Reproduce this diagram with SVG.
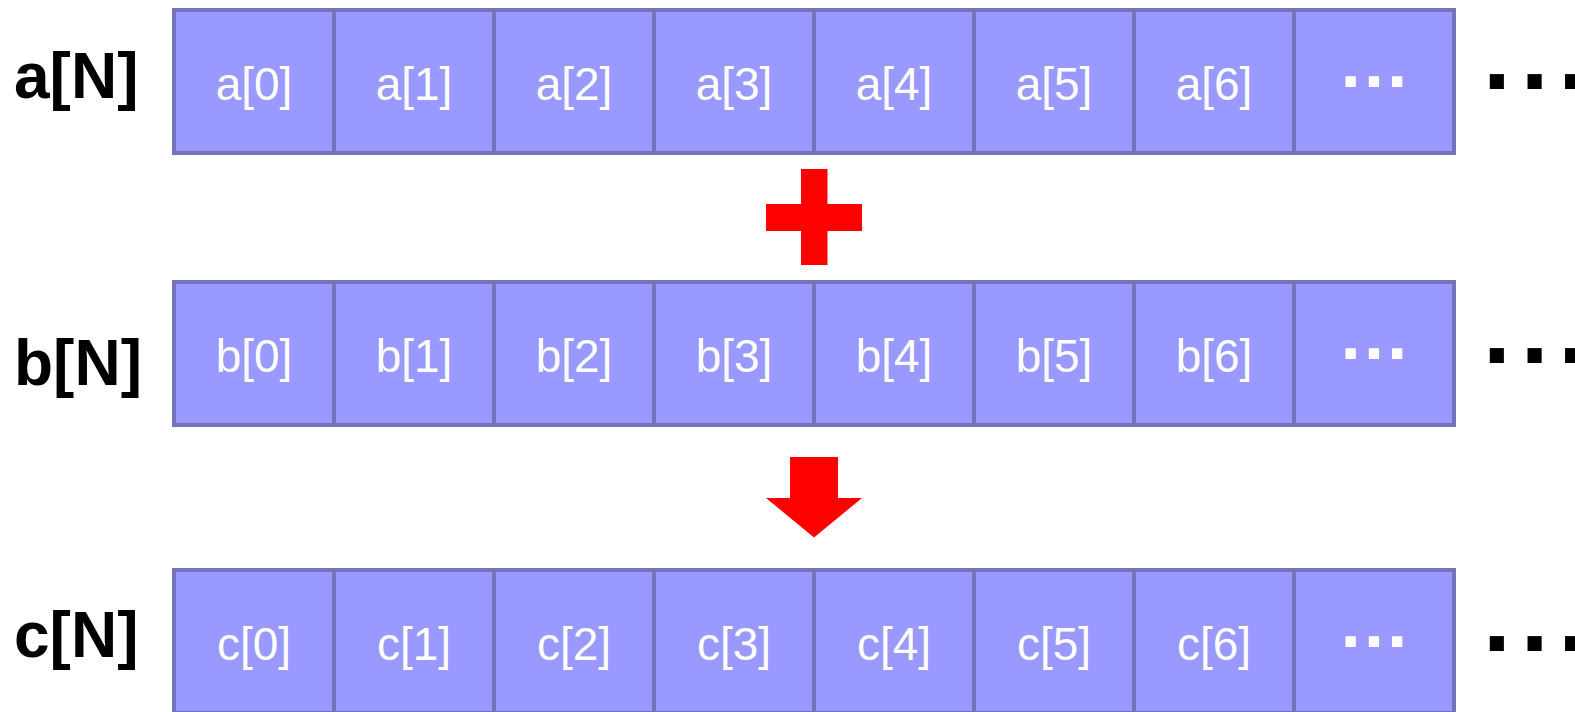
<svg xmlns="http://www.w3.org/2000/svg" width="1575" height="712" viewBox="0 0 1575 712">
  <style>
    .cell { fill: #9999ff; stroke: #7373bb; stroke-width: 4; }
    .ct { font-family: "Liberation Sans", Arial, sans-serif; font-size: 46px; fill: #ffffff; text-anchor: middle; }
    .cd { font-family: "Liberation Sans", Arial, sans-serif; font-size: 73px; font-weight: bold; fill: #ffffff; text-anchor: middle; }
    .lbl { font-family: "Liberation Sans", Arial, sans-serif; font-size: 64px; font-weight: bold; fill: #000000; }
    .od { font-family: "Liberation Sans", Arial, sans-serif; font-size: 100px; font-weight: bold; fill: #000000; letter-spacing: 9.9px; }
    .op { fill: #ff0000; }
  </style>
  <rect width="1575" height="712" fill="#ffffff"/>

  <g id="array-a">
    <text class="lbl" x="14" y="98">a[N]</text>
    <g id="a0"><rect class="cell" x="174" y="10" width="160" height="143"/><text class="ct" x="254" y="100">a[0]</text></g>
    <g id="a1"><rect class="cell" x="334" y="10" width="160" height="143"/><text class="ct" x="414" y="100">a[1]</text></g>
    <g id="a2"><rect class="cell" x="494" y="10" width="160" height="143"/><text class="ct" x="574" y="100">a[2]</text></g>
    <g id="a3"><rect class="cell" x="654" y="10" width="160" height="143"/><text class="ct" x="734" y="100">a[3]</text></g>
    <g id="a4"><rect class="cell" x="814" y="10" width="160" height="143"/><text class="ct" x="894" y="100">a[4]</text></g>
    <g id="a5"><rect class="cell" x="974" y="10" width="160" height="143"/><text class="ct" x="1054" y="100">a[5]</text></g>
    <g id="a6"><rect class="cell" x="1134" y="10" width="160" height="143"/><text class="ct" x="1214" y="100">a[6]</text></g>
    <g id="a-more"><rect class="cell" x="1294" y="10" width="160" height="143"/><text class="cd" x="1374" y="86.7">…</text></g>
    <text class="od" x="1483" y="89">...</text>
  </g>

  <g id="array-b">
    <text class="lbl" x="14" y="385">b[N]</text>
    <g id="b0"><rect class="cell" x="174" y="282" width="160" height="143"/><text class="ct" x="254" y="372">b[0]</text></g>
    <g id="b1"><rect class="cell" x="334" y="282" width="160" height="143"/><text class="ct" x="414" y="372">b[1]</text></g>
    <g id="b2"><rect class="cell" x="494" y="282" width="160" height="143"/><text class="ct" x="574" y="372">b[2]</text></g>
    <g id="b3"><rect class="cell" x="654" y="282" width="160" height="143"/><text class="ct" x="734" y="372">b[3]</text></g>
    <g id="b4"><rect class="cell" x="814" y="282" width="160" height="143"/><text class="ct" x="894" y="372">b[4]</text></g>
    <g id="b5"><rect class="cell" x="974" y="282" width="160" height="143"/><text class="ct" x="1054" y="372">b[5]</text></g>
    <g id="b6"><rect class="cell" x="1134" y="282" width="160" height="143"/><text class="ct" x="1214" y="372">b[6]</text></g>
    <g id="b-more"><rect class="cell" x="1294" y="282" width="160" height="143"/><text class="cd" x="1374" y="358.7">…</text></g>
    <text class="od" x="1483" y="362.7">...</text>
  </g>

  <g id="array-c">
    <text class="lbl" x="14" y="656.7">c[N]</text>
    <g id="c0"><rect class="cell" x="174" y="570" width="160" height="143"/><text class="ct" x="254" y="660">c[0]</text></g>
    <g id="c1"><rect class="cell" x="334" y="570" width="160" height="143"/><text class="ct" x="414" y="660">c[1]</text></g>
    <g id="c2"><rect class="cell" x="494" y="570" width="160" height="143"/><text class="ct" x="574" y="660">c[2]</text></g>
    <g id="c3"><rect class="cell" x="654" y="570" width="160" height="143"/><text class="ct" x="734" y="660">c[3]</text></g>
    <g id="c4"><rect class="cell" x="814" y="570" width="160" height="143"/><text class="ct" x="894" y="660">c[4]</text></g>
    <g id="c5"><rect class="cell" x="974" y="570" width="160" height="143"/><text class="ct" x="1054" y="660">c[5]</text></g>
    <g id="c6"><rect class="cell" x="1134" y="570" width="160" height="143"/><text class="ct" x="1214" y="660">c[6]</text></g>
    <g id="c-more"><rect class="cell" x="1294" y="570" width="160" height="143"/><text class="cd" x="1374" y="646.7">…</text></g>
    <text class="od" x="1483" y="650.7">...</text>
  </g>

  <g id="plus">
    <rect class="op" x="801" y="169" width="26.5" height="96"/>
    <rect class="op" x="766" y="204" width="96" height="27"/>
  </g>

  <g id="connectors">
    <polygon class="op" points="790,457 838,457 838,498 862,498 814,537.5 766,498 790,498"/>
  </g>
</svg>
